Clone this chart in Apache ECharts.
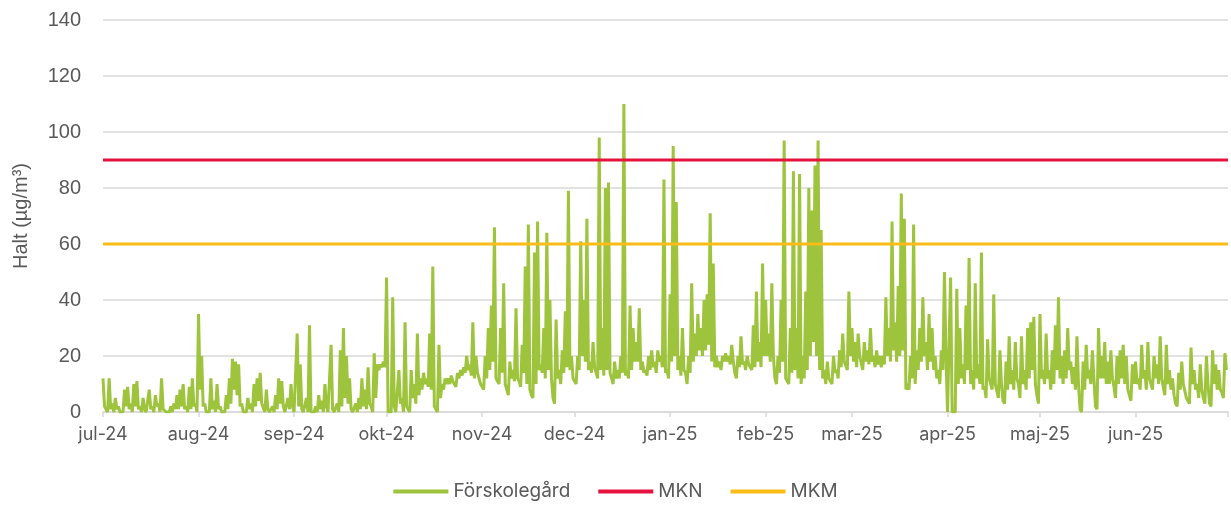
<!DOCTYPE html>
<html lang="sv">
<head>
<meta charset="utf-8">
<title>Halt Förskolegård</title>
<script src="https://cdn.jsdelivr.net/npm/echarts@6/dist/echarts.min.js"></script>
<style>
  html, body { margin: 0; padding: 0; background: #fff; }
  #chart { width: 1231px; height: 510px; }
</style>
</head>
<body>
<div id="chart"></div>
<script>
// dygnets högsta värde, en array per månad (µg/m³)
const jul24 = [12, 1, 12, 3, 5, 2, 0, 8, 9, 3, 10, 11, 2, 5, 0, 8, 2, 6, 3, 12, 1, 0, 2, 3, 6, 8, 10, 2, 9, 12, 3]
const aug24 = [35, 20, 3, 0, 12, 4, 10, 2, 0, 6, 12, 19, 18, 17, 3, 0, 5, 3, 10, 12, 14, 3, 8, 0, 2, 6, 12, 11, 0, 5, 10]
const sep24 = [0, 28, 17, 0, 5, 31, 0, 2, 6, 4, 10, 0, 24, 0, 3, 22, 30, 20, 12, 0, 3, 5, 12, 8, 16, 2, 21, 17, 17, 18]
const okt24 = [48, 0, 41, 0, 15, 5, 32, 2, 15, 10, 28, 12, 14, 12, 28, 52, 1, 24, 10, 12, 12, 13, 10, 14, 15, 16, 20, 17, 32, 20, 14]
const nov24 = [10, 20, 30, 38, 66, 12, 30, 46, 8, 18, 15, 37, 11, 24, 52, 67, 6, 57, 68, 17, 30, 64, 40, 5, 33, 15, 22, 36, 79, 20]
const dec24 = [12, 20, 61, 40, 69, 18, 25, 16, 98, 30, 80, 82, 12, 18, 15, 20, 110, 15, 38, 30, 25, 37, 18, 15, 20, 22, 18, 22, 20, 83, 15]
const jan25 = [42, 95, 75, 20, 30, 14, 20, 46, 28, 35, 30, 40, 42, 71, 53, 20, 18, 20, 21, 20, 24, 14, 20, 27, 18, 20, 17, 31, 43, 25, 53]
const feb25 = [40, 28, 46, 12, 20, 40, 97, 12, 30, 86, 30, 85, 20, 43, 80, 72, 88, 97, 65, 15, 18, 12, 20, 15, 22, 28, 18, 43]
const mar25 = [30, 25, 28, 20, 25, 22, 30, 20, 22, 20, 20, 41, 30, 68, 32, 45, 78, 69, 10, 20, 67, 22, 30, 41, 25, 35, 30, 20, 15, 22, 50]
const apr25 = [0, 48, 0, 44, 30, 17, 38, 55, 15, 46, 17, 57, 9, 26, 12, 42, 10, 22, 4, 18, 27, 15, 25, 10, 27, 15, 30, 32, 34, 6]
const maj25 = [35, 15, 28, 15, 22, 31, 41, 20, 22, 30, 18, 16, 27, 1, 18, 24, 15, 22, 2, 30, 20, 25, 18, 22, 9, 20, 22, 24, 20, 6, 17]
const jun25 = [18, 12, 24, 15, 25, 12, 20, 17, 27, 9, 24, 15, 12, 3, 14, 18, 10, 5, 23, 15, 10, 17, 5, 20, 3, 22, 17, 15, 7, 21]

// dygnets lägsta värde
const jul24Low = [2, 0, 1, 0, 1, 0, 0, 2, 1, 0, 2, 1, 0, 1, 0, 1, 0, 2, 0, 1, 0, 0, 0, 1, 1, 2, 1, 0, 1, 2, 0]
const aug24Low = [8, 2, 0, 0, 1, 0, 1, 0, 0, 1, 3, 8, 6, 2, 0, 0, 1, 0, 2, 4, 3, 0, 1, 0, 0, 1, 3, 2, 0, 1, 2]
const sep24Low = [0, 2, 1, 0, 0, 0, 0, 0, 1, 0, 2, 0, 1, 0, 0, 2, 5, 3, 1, 0, 0, 1, 2, 1, 3, 0, 5, 15, 16, 16]
const okt24Low = [0, 0, 2, 0, 3, 0, 2, 0, 5, 3, 6, 8, 10, 9, 8, 2, 0, 5, 8, 10, 10, 11, 9, 12, 13, 14, 15, 13, 12, 14, 10]
const nov24Low = [8, 12, 15, 18, 12, 10, 14, 10, 6, 12, 11, 12, 9, 14, 10, 8, 5, 10, 15, 14, 12, 15, 12, 3, 12, 10, 14, 16, 15, 12]
const dec24Low = [10, 15, 20, 18, 15, 14, 16, 12, 15, 13, 15, 14, 10, 12, 12, 14, 13, 12, 15, 18, 18, 15, 14, 13, 15, 16, 14, 18, 16, 14, 12]
const jan25Low = [18, 20, 15, 13, 15, 10, 14, 18, 20, 22, 20, 22, 24, 18, 16, 16, 15, 18, 18, 17, 18, 12, 16, 17, 15, 17, 15, 16, 18, 16, 20]
const feb25Low = [20, 18, 20, 10, 14, 18, 12, 10, 14, 15, 12, 10, 12, 15, 20, 25, 20, 15, 12, 10, 12, 10, 14, 12, 16, 18, 15, 20]
const mar25Low = [18, 16, 20, 15, 18, 17, 18, 16, 17, 16, 17, 20, 18, 22, 18, 20, 22, 8, 8, 12, 10, 15, 18, 20, 15, 18, 15, 12, 10, 15, 20]
const apr25Low = [0, 0, 0, 10, 12, 10, 15, 10, 8, 12, 10, 8, 5, 12, 8, 10, 5, 10, 3, 8, 10, 8, 12, 5, 10, 8, 12, 15, 10, 3]
const maj25Low = [12, 10, 12, 8, 10, 15, 12, 10, 12, 15, 10, 8, 10, 0, 8, 12, 10, 12, 1, 12, 12, 10, 10, 12, 5, 10, 12, 10, 8, 4, 10]
const jun25Low = [10, 8, 12, 8, 12, 8, 12, 10, 12, 6, 10, 8, 6, 2, 8, 10, 5, 3, 10, 8, 5, 8, 3, 10, 2, 10, 8, 8, 5, 15]

const monthsHigh = [jul24, aug24, sep24, okt24, nov24, dec24, jan25, feb25, mar25, apr25, maj25, jun25]
const monthsLow = [jul24Low, aug24Low, sep24Low, okt24Low, nov24Low, dec24Low, jan25Low, feb25Low, mar25Low, apr25Low, maj25Low, jun25Low]
const monthLabels = ['jul-24', 'aug-24', 'sep-24', 'okt-24', 'nov-24', 'dec-24', 'jan-25', 'feb-25', 'mar-25', 'apr-25', 'maj-25', 'jun-25']

const mknLevel = 90
const mkmLevel = 60

const colors = { station: '#9dc43c', mkn: '#e5123d', mkm: '#fbbc18' }

// dagindex för varje månadsstart + slutet av perioden
const monthStarts = []
let dayCount = 0
monthsHigh.forEach((m) => {
  monthStarts.push(dayCount)
  dayCount += m.length
})
const periodEnd = dayCount

// högsta och lägsta värde varvas inom dygnet
const highs = monthsHigh.flat()
const lows = monthsLow.flat()
const stationData = []
highs.forEach((v, i) => {
  stationData.push([i, v])
  stationData.push([i + 0.5, lows[i]])
})

const getChartOption = () => ({
  animation: false,
  textStyle: { fontFamily: 'Liberation Sans, Arial, sans-serif' },
  grid: {
    left: 103,
    right: 3,
    top: 20,
    bottom: 98
  },
  legend: {
    bottom: 4,
    left: 'center',
    icon: 'rect',
    itemWidth: 55,
    itemHeight: 4,
    itemGap: 28,
    textStyle: { color: '#595959', fontSize: 19, fontFamily: 'Inter, sans-serif' },
    data: ['Förskolegård', 'MKN', 'MKM']
  },
  xAxis: {
    type: 'value',
    min: 0,
    max: periodEnd,
    splitLine: { show: false },
    axisLine: { show: true, lineStyle: { color: '#d9d9d9', width: 1.5 } },
    axisTick: {
      show: true,
      length: 5,
      customValues: monthStarts.concat([periodEnd]),
      lineStyle: { color: '#d9d9d9', width: 1.5 }
    },
    axisLabel: {
      customValues: monthStarts,
      margin: 14,
      color: '#595959',
      fontSize: 18,
      fontFamily: 'Inter, sans-serif',
      formatter: (value) => monthLabels[monthStarts.indexOf(value)] || ''
    }
  },
  yAxis: {
    type: 'value',
    min: 0,
    max: 140,
    interval: 20,
    name: 'Halt (µg/m³)',
    nameLocation: 'middle',
    nameGap: 72,
    nameTextStyle: { color: '#595959', fontSize: 20 },
    axisLine: { show: false },
    axisTick: { show: false },
    axisLabel: { color: '#595959', fontSize: 20, margin: 22 },
    splitLine: { lineStyle: { color: '#d9d9d9', width: 1.5 } }
  },
  series: [
    {
      name: 'Förskolegård',
      type: 'line',
      data: stationData,
      symbol: 'none',
      lineStyle: { color: colors.station, width: 3 },
      itemStyle: { color: colors.station }
    },
    {
      name: 'MKN',
      type: 'line',
      data: [[0, mknLevel], [periodEnd, mknLevel]],
      symbol: 'none',
      lineStyle: { color: colors.mkn, width: 3 },
      itemStyle: { color: colors.mkn }
    },
    {
      name: 'MKM',
      type: 'line',
      data: [[0, mkmLevel], [periodEnd, mkmLevel]],
      symbol: 'none',
      lineStyle: { color: colors.mkm, width: 3 },
      itemStyle: { color: colors.mkm }
    }
  ]
})

const chart = echarts.init(document.getElementById('chart'))
chart.setOption(getChartOption())
window.addEventListener('resize', () => chart.resize())
</script>
</body>
</html>
